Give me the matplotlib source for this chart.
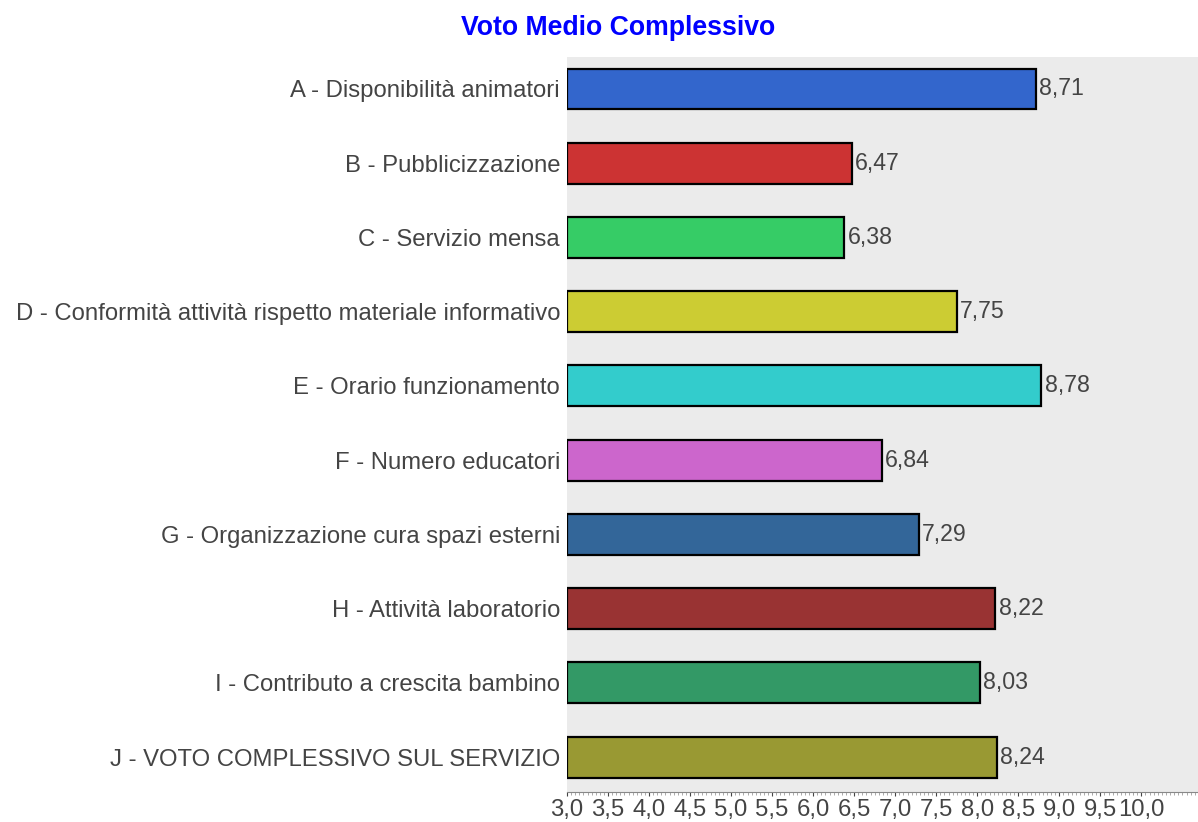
import matplotlib
matplotlib.use("Agg")
import matplotlib.pyplot as plt
from matplotlib.ticker import MultipleLocator, FuncFormatter

categories = [
    "A - Disponibilità animatori",
    "B - Pubblicizzazione",
    "C - Servizio mensa",
    "D - Conformità attività rispetto materiale informativo",
    "E - Orario funzionamento",
    "F - Numero educatori",
    "G - Organizzazione cura spazi esterni",
    "H - Attività laboratorio",
    "I - Contributo a crescita bambino",
    "J - VOTO COMPLESSIVO SUL SERVIZIO",
]
values = [8.71, 6.47, 6.38, 7.75, 8.78, 6.84, 7.29, 8.22, 8.03, 8.24]
colors = ["#3366CC", "#CC3333", "#36CC66", "#CCCC33", "#33CCCC",
          "#CC66CC", "#336699", "#993333", "#339966", "#999933"]
x_ticks = [3.0, 3.5, 4.0, 4.5, 5.0, 5.5, 6.0, 6.5, 7.0, 7.5, 8.0, 8.5, 9.0, 9.5, 10.0]
title = "Voto Medio Complessivo"

plt.rcParams['font.family'] = ['Liberation Sans', 'DejaVu Sans']
W, H = 1198, 822
fig = plt.figure(figsize=(W / 100, H / 100), dpi=100)
ax = fig.add_axes([567 / W, 1 - 792 / H, 1 - 567 / W, (792 - 57) / H])
ax.set_facecolor("#EBEBEB")

FS = 17.2
base = 3.0
ypos = list(range(len(categories)))
ax.barh(ypos, [v - base for v in values], left=base, height=0.55,
        color=colors, edgecolor="black", linewidth=1.6)
for y, v in zip(ypos, values):
    ax.text(v + 0.04, y, f"{v:.2f}".replace(".", ","), va="center", ha="left",
            fontsize=FS * 0.97, color="#444444")

ax.set_xlim(3.0, 10.69)
ax.set_ylim(len(categories) - 1 + 0.47, -0.43)
ax.set_yticks(ypos)
ax.set_yticklabels(categories, fontsize=FS, color="#444444")
ax.tick_params(axis="y", length=0, pad=5)
ax.set_xticks(x_ticks)
ax.xaxis.set_major_formatter(FuncFormatter(lambda v, p: f"{v:.1f}".replace(".", ",")))
ax.xaxis.set_minor_locator(MultipleLocator(0.05))
ax.tick_params(axis="x", which="major", length=3, width=0.8, color="#444444",
               labelsize=FS, labelcolor="#444444", pad=2)
ax.tick_params(axis="x", which="minor", length=2, width=0.5, color="#888888")
for s in ["top", "right", "left"]:
    ax.spines[s].set_visible(False)
ax.spines["bottom"].set_color("#888888")
ax.spines["bottom"].set_linewidth(0.8)

fig.text(618 / W, 1 - 28 / H, title, ha="center", va="center", fontsize=19.2,
         fontweight="bold", color="#0000FF")

fig.savefig("out.png", dpi=100)
